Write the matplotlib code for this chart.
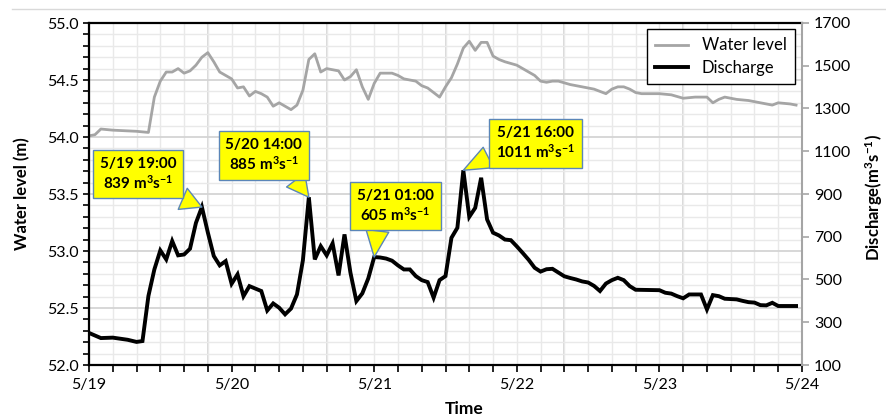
import matplotlib
matplotlib.use('Agg')
import matplotlib.pyplot as plt
from matplotlib.lines import Line2D
from matplotlib.ticker import MultipleLocator, FixedLocator

plt.rcParams['font.family'] = ['Lato', 'DejaVu Sans']
plt.rcParams['mathtext.fontset'] = 'custom'
plt.rcParams['mathtext.rm'] = 'Lato'
plt.rcParams['mathtext.bf'] = 'Lato:bold'
plt.rcParams['mathtext.it'] = 'Lato:italic'

# hours since 5/19 00:00
level_hours = [0, 1, 2, 4, 8, 10, 11, 12, 13, 14, 15, 16, 17, 18, 19, 20, 21, 22, 23, 24,
               25, 26, 27, 28, 29, 30, 31, 32, 33, 34, 35, 36, 37, 38, 39, 40, 42, 43, 44, 45,
               46, 47, 48, 49, 51, 52, 53, 55, 56, 57, 59, 60, 61, 62, 63, 64, 65, 66, 67, 68,
               69, 70, 72, 73, 75, 76, 77, 78, 79, 81, 82, 84, 85, 86, 87, 88, 89, 90, 91, 92,
               93, 96, 98, 100, 102, 104, 105, 106, 107, 109, 111, 113, 115, 116, 118, 119]
level = [54.01, 54.02, 54.07, 54.06, 54.05, 54.04, 54.35, 54.49, 54.57, 54.57, 54.60, 54.56,
         54.58, 54.63, 54.70, 54.74, 54.66, 54.57, 54.54, 54.51, 54.43, 54.44, 54.36, 54.40,
         54.38, 54.35, 54.27, 54.30, 54.27, 54.24, 54.28, 54.41, 54.68, 54.73, 54.57, 54.60,
         54.58, 54.50, 54.53, 54.59, 54.44, 54.33, 54.47, 54.56, 54.56, 54.54, 54.51, 54.49,
         54.45, 54.43, 54.35, 54.44, 54.52, 54.64, 54.78, 54.84, 54.76, 54.83, 54.83, 54.71,
         54.68, 54.66, 54.63, 54.60, 54.54, 54.49, 54.48, 54.49, 54.49, 54.46, 54.45, 54.43,
         54.42, 54.40, 54.38, 54.42, 54.44, 54.44, 54.42, 54.39, 54.38, 54.38, 54.37, 54.34,
         54.35, 54.35, 54.30, 54.33, 54.35, 54.33, 54.32, 54.30, 54.28, 54.30, 54.29, 54.28]

flow_hours = [0, 2, 4, 6.5, 8, 9, 10, 11, 12, 13, 14, 15, 16, 17, 18, 19, 20, 21, 22, 23,
              24, 25, 26, 27, 29, 30, 31, 32, 33, 34, 35, 36, 37, 38, 39, 40, 41, 42, 43, 44,
              45, 46, 47, 48, 49, 50, 51, 52, 53, 54, 55, 56, 57, 58, 59, 60, 61, 62, 63, 64,
              65, 66, 67, 68, 69, 70, 71, 72, 73, 74, 75, 76, 77, 78, 80, 81, 82, 83, 84, 85,
              86, 87, 88, 89, 90, 91, 92, 96, 97, 98, 99, 100, 101, 103, 104, 105, 106, 107, 109, 110,
              111, 112, 113, 114, 115, 116, 119]
flow = [250, 226, 228, 218, 208, 212, 423, 547, 636, 594, 680, 613, 617, 644, 765, 839, 720, 610, 566, 586,
        480, 524, 422, 469, 446, 355, 388, 368, 337, 364, 430, 590, 885, 594, 656, 613, 669, 519, 711, 532,
        399, 435, 505, 605, 603, 598, 588, 566, 547, 547, 516, 497, 488, 415, 497, 516, 695, 742, 1011, 793,
        835, 976, 781, 719, 706, 687, 684, 655, 624, 592, 555, 537, 548, 550, 515, 507, 500, 491, 486, 470,
        446, 481, 497, 508, 497, 469, 452, 450, 438, 434, 422, 412, 430, 430, 360, 427, 422, 410, 407, 400,
        394, 392, 380, 379, 391, 376, 376]

day_labels = ['5/19', '5/20', '5/21', '5/22', '5/23', '5/24']
flow_ticks = [100, 300, 500, 700, 900, 1100, 1300, 1500, 1700]

peak_hours = [19, 37, 48, 63]
peak_flow = [839, 885, 605, 1011]
peak_labels = ['5/19 19:00', '5/20 14:00', '5/21 01:00', '5/21 16:00']

fig = plt.figure(figsize=(8.86, 4.19), dpi=100)
ax = fig.add_axes([89/886, 1 - 365/419, 713/886, 342/419])
ax2 = ax.twinx()

# plot area
ax.set_xlim(0, 120)
ax.set_ylim(52.0, 55.0)
ax2.set_ylim(flow_ticks[0], flow_ticks[-1])

ax.xaxis.set_major_locator(FixedLocator([24 * i for i in range(len(day_labels))]))
ax.set_xticklabels(day_labels)
ax.xaxis.set_minor_locator(MultipleLocator(4))
ax.yaxis.set_major_locator(MultipleLocator(0.5))
ax.yaxis.set_minor_locator(MultipleLocator(0.1))
ax.yaxis.set_major_formatter(matplotlib.ticker.FormatStrFormatter('%.1f'))
ax2.yaxis.set_major_locator(FixedLocator(flow_ticks))

# grid
ax.xaxis.grid(True, which='both', color='#e9e9e9', lw=1, zorder=0)
ax.yaxis.grid(True, which='minor', color='#e9e9e9', lw=1)
ax.yaxis.grid(True, which='major', color='#d4d4d4', lw=1.3)
for h in range(20, 120, 20):
    ax.axvline(h, color='#d4d4d4', lw=1.3, zorder=0.5)
ax.set_axisbelow(True)

ax.plot(level_hours, level, color='#a5a5a5', lw=2.0, label='Water level')
ax2.plot(flow_hours, flow, color='black', lw=2.8, label='Discharge', solid_joinstyle='miter')

# ticks and spines
ax.tick_params(axis='x', which='both', direction='out', length=5, width=1.2, labelsize=11.5, pad=4)
ax.tick_params(axis='y', which='both', direction='out', length=4, width=1.2, labelsize=11.5)
ax2.tick_params(axis='y', direction='out', length=5, width=1.2, color='#a5a5a5', labelsize=11.5)
for s in ['left', 'bottom', 'top']:
    ax.spines[s].set_linewidth(1.6)
    ax.spines[s].set_color('black')
ax.spines['right'].set_visible(False)
for s in ['left', 'bottom', 'top']:
    ax2.spines[s].set_visible(False)
ax2.spines['right'].set_color('#a5a5a5')
ax2.spines['right'].set_linewidth(1.5)

ax.set_xlabel('Time', fontsize=12.5, fontweight='bold', va='center')
ax.xaxis.set_label_coords((464 - 89) / 713, (365 - 409) / 342)
ax.set_ylabel('Water level (m)', fontsize=12, fontweight='bold', va='center')
ax.yaxis.set_label_coords((22 - 89) / 713, 0.5)
ax2.set_ylabel(r'Discharge($\mathbf{m^{3}s^{-1}}$)', fontsize=12, fontweight='bold', va='center')
ax2.yaxis.set_label_coords((874 - 89) / 713, 0.49)

h1, l1 = ax.get_legend_handles_labels()
h2, l2 = ax2.get_legend_handles_labels()
leg = ax2.legend(h1 + h2, l1 + l2, loc='upper right', bbox_to_anchor=(0.99, 0.982),
                 borderaxespad=0, fancybox=False, framealpha=1, edgecolor='black',
                 fontsize=12, handlelength=2.0, borderpad=0.5, labelspacing=0.4)
leg.get_frame().set_linewidth(1.0)

# callouts: offsets in pixels from the peak to the box centre, and where the pointer leaves the box
offsets = [(-64, 33), (-45, 42), (21, 51), (72, 27)]
relpos = [(0.86, 0.0), (0.84, 0.0), (0.28, 0.0), (0.0, 0.2)]
for h, q, lab, off, rp in zip(peak_hours, peak_flow, peak_labels, offsets, relpos):
    ax2.annotate(lab + '\n' + str(q) + r' $\mathbf{m^{3}s^{-1}}$', xy=(h, q), xytext=off,
                 textcoords='offset pixels', ha='center', va='center', fontsize=11,
                 fontweight='bold', linespacing=1.2, zorder=5,
                 bbox=dict(boxstyle='square,pad=0.45', fc='#ffff00', ec='#5b86b8', lw=1),
                 arrowprops=dict(arrowstyle='wedge,tail_width=1.5,shrink_factor=0.5', fc='#ffff00',
                                 ec='#5b86b8', lw=1, relpos=rp, shrinkA=0, shrinkB=0))

fig.add_artist(Line2D([12 / 886, 1], [1 - 9 / 419, 1 - 9 / 419], color='#d9d9d9', lw=1))

fig.savefig('out.png', dpi=100)
